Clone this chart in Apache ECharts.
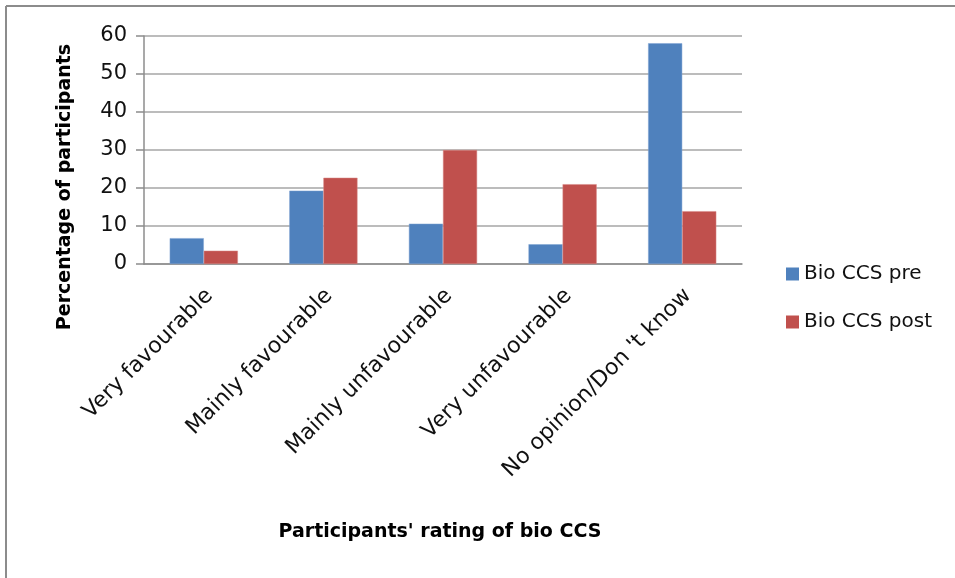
<!DOCTYPE html>
<html>
<head>
<meta charset="utf-8">
<script src="https://cdn.jsdelivr.net/npm/echarts@6/dist/echarts.min.js"></script>
<style>html,body{margin:0;padding:0;background:#fff;}#c{width:955px;height:578px;}</style>
</head>
<body>
<div id="c"></div>
<script>
const categories = ["Very favourable", "Mainly favourable", "Mainly unfavourable", "Very unfavourable", "No opinion/Don 't know"];
const preValues = [6.8, 19.3, 10.6, 5.2, 58.1];
const postValues = [3.5, 22.7, 30.0, 21.0, 13.9];
const seriesNames = ["Bio CCS pre", "Bio CCS post"];
const yTitle = "Percentage of participants";
const xTitle = "Participants' rating of bio CCS";

const FONT = "DejaVu Sans";
const chart = echarts.init(document.getElementById('c'), null, {renderer: 'canvas'});
chart.setOption({
  animation: false,
  backgroundColor: '#fff',
  grid: {left: 144, right: 213, top: 36, bottom: 314, containLabel: false},
  legend: {
    orient: 'vertical', left: 781, top: 257,
    itemWidth: 13, itemHeight: 13, itemGap: 24,
    icon: 'rect',
    itemStyle: {borderWidth: 0},
    textStyle: {fontFamily: FONT, fontSize: 20, color: '#111', lineHeight: 24},
    data: seriesNames
  },
  xAxis: {
    type: 'category', data: categories,
    axisLine: {lineStyle: {color: '#8c8c8c', width: 1.5}},
    axisTick: {show: false},
    axisLabel: {rotate: 45, margin: 34, fontFamily: FONT, fontSize: 22, color: '#111', interval: 0, padding: [0, -8, 0, 0]}
  },
  yAxis: {
    type: 'value', min: 0, max: 60, interval: 10,
    axisLine: {show: true, lineStyle: {color: '#8c8c8c', width: 1.5}},
    axisTick: {show: true, length: 8, lineStyle: {color: '#8c8c8c', width: 1.5}},
    splitLine: {lineStyle: {color: '#a6a6a6', width: 1.5}},
    axisLabel: {fontFamily: FONT, fontSize: 21, color: '#111', margin: 17}
  },
  series: [
    {name: seriesNames[0], type: 'bar', data: preValues, barGap: '0%', barCategoryGap: '43%',
     itemStyle: {color: '#4f81bd', borderColor: '#7fa2d3', borderWidth: 0.5}},
    {name: seriesNames[1], type: 'bar', data: postValues, barGap: '0%', barCategoryGap: '43%',
     itemStyle: {color: '#c0504d', borderColor: '#d88986', borderWidth: 0.5}}
  ],
  graphic: [
    {type: 'line', shape: {x1: 6, y1: 6, x2: 955, y2: 6}, style: {stroke: '#8c8c8c', lineWidth: 2}},
    {type: 'line', shape: {x1: 6, y1: 6, x2: 6, y2: 578}, style: {stroke: '#8c8c8c', lineWidth: 2}},
    {type: 'text', x: 65, y: 187, rotation: Math.PI/2,
     style: {text: yTitle, fontFamily: FONT, fontWeight: 'bold', fontSize: 19, fill: '#000', align: 'center', verticalAlign: 'middle'}},
    {type: 'text', x: 440, y: 532,
     style: {text: xTitle, fontFamily: FONT, fontWeight: 'bold', fontSize: 19, fill: '#000', align: 'center', verticalAlign: 'middle'}}
  ]
});
</script>
</body>
</html>
